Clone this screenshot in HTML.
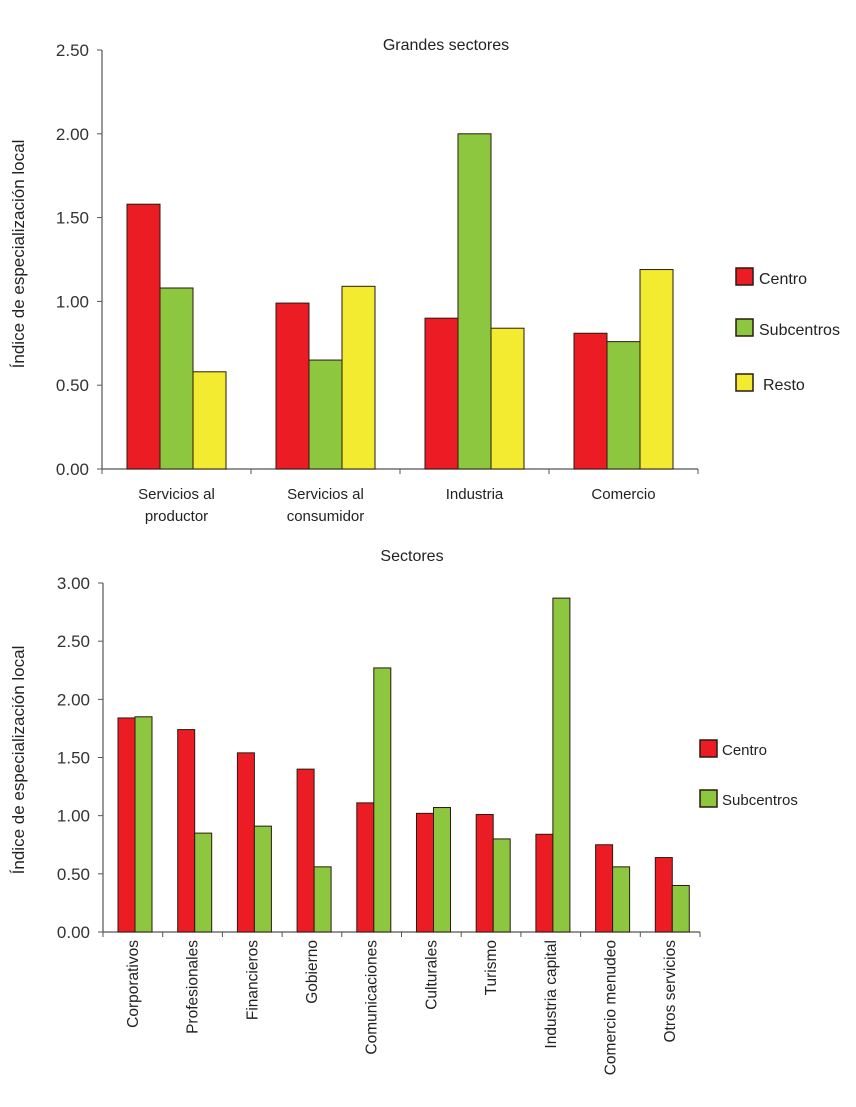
<!DOCTYPE html>
<html><head><meta charset="utf-8">
<style>
body{margin:0;background:#fff;}
svg text{font-family:"Liberation Sans",sans-serif;fill:#222;}
</style></head>
<body>
<svg id="c" width="856" height="1102" xmlns="http://www.w3.org/2000/svg"></svg>
<script>
const topCats=[["Servicios al","productor"],["Servicios al","consumidor"],["Industria"],["Comercio"]];
const topCentro=[1.58,0.99,0.90,0.81];
const topSub=[1.08,0.65,2.00,0.76];
const topResto=[0.58,1.09,0.84,1.19];
const topTicks=["0.00","0.50","1.00","1.50","2.00","2.50"];
const botCats=["Corporativos","Profesionales","Financieros","Gobierno","Comunicaciones","Culturales","Turismo","Industria capital","Comercio menudeo","Otros servicios"];
const botCentro=[1.84,1.74,1.54,1.40,1.11,1.02,1.01,0.84,0.75,0.64];
const botSub=[1.85,0.85,0.91,0.56,2.27,1.07,0.80,2.87,0.56,0.40];
const botTicks=["0.00","0.50","1.00","1.50","2.00","2.50","3.00"];

const svg=document.getElementById('c');
const NS="http://www.w3.org/2000/svg";
function mk(tag,attrs,txt){const e=document.createElementNS(NS,tag);for(const k in attrs)e.setAttribute(k,attrs[k]);if(txt!==undefined)e.textContent=txt;svg.appendChild(e);return e;}
const RED="#ec1c24",GREEN="#8dc63f",YEL="#f2eb30";

function chart(o){
  const y=v=>o.y0-(v/o.max)*(o.y0-o.yTop);
  const n=o.cats.length;const gw=(o.x1-o.x0)/n;
  let e=mk('line',{x1:o.x0,y1:o.yTop,x2:o.x0,y2:o.y0,stroke:'#555','stroke-width':1.2});
  
  
  e=mk('line',{x1:o.x0,y1:o.y0,x2:o.x1,y2:o.y0,stroke:'#555','stroke-width':1.2});
  
  
  o.ticks.forEach(t=>{const yy=y(parseFloat(t));
    mk('line',{x1:o.x0-5,y1:yy,x2:o.x0,y2:yy,stroke:'#555'});
    e=mk('text',{x:o.x0-13,y:yy+6,'text-anchor':'end','font-size':17,style:'fill:#333'},t);
    
    
  });
  for(let i=0;i<=n;i++){const xx=o.x0+i*gw;mk('line',{x1:xx,y1:o.y0,x2:xx,y2:o.y0+5,stroke:'#555'});}
  o.series.forEach((s,si)=>{
    s.vals.forEach((v,i)=>{
      const x=o.x0+i*gw+o.off+si*o.bw;
      const r=mk('rect',{x:x,y:y(v),width:o.bw,height:o.y0-y(v),fill:s.color,stroke:'#2a1a10','stroke-width':1});
      
      
    });
  });
  o.cats.forEach((c,i)=>{
    const cx=o.x0+(i+0.5)*gw;
    if(o.rot){
      e=mk('text',{x:0,y:0,'text-anchor':'end','font-size':15.5,transform:`translate(${cx+5},${o.y0+8}) rotate(-90)`},c);
    }else{
      e=mk('text',{x:cx,y:o.y0+30,'text-anchor':'middle','font-size':15});
      c.forEach((l,li)=>{const t=document.createElementNS(NS,'tspan');t.setAttribute('x',cx);t.setAttribute('dy',li?22:0);t.textContent=l;e.appendChild(t);});
    }
    
    
  });
}
chart({p:'top',cats:topCats,max:2.5,ticks:topTicks,x0:102,x1:698,y0:469,yTop:50,off:25,bw:33,rot:false,
  series:[{name:'Centro',vals:topCentro,color:RED},{name:'Subcentros',vals:topSub,color:GREEN},{name:'Resto',vals:topResto,color:YEL}]});
chart({p:'bottom',cats:botCats,max:3,ticks:botTicks,x0:103,x1:700,y0:932,yTop:583,off:15,bw:17,rot:true,
  series:[{name:'Centro',vals:botCentro,color:RED},{name:'Subcentros',vals:botSub,color:GREEN}]});

let e=mk('text',{x:446,y:50,'text-anchor':'middle','font-size':16},'Grandes sectores');


e=mk('text',{x:412,y:561,'text-anchor':'middle','font-size':16},'Sectores');


e=mk('text',{x:0,y:0,'text-anchor':'middle','font-size':17,transform:'translate(24,254) rotate(-90)'},'Índice de especialización local');


e=mk('text',{x:0,y:0,'text-anchor':'middle','font-size':17,transform:'translate(24,760) rotate(-90)'},'Índice de especialización local');



[[ 'Centro',RED,268],['Subcentros',GREEN,319],['Resto',YEL,374]].forEach(l=>{
  const r=mk('rect',{x:736,y:l[2],width:17,height:17,fill:l[1],stroke:'#2a1a10','stroke-width':1.5});
  
  
  const t=mk('text',{x:l[0]==='Resto'?763:759,y:l[2]+16,'font-size':16},l[0]);
  
  
});
[['Centro',RED,740],['Subcentros',GREEN,790]].forEach(l=>{
  const r=mk('rect',{x:700,y:l[2],width:17,height:17,fill:l[1],stroke:'#2a1a10','stroke-width':1.5});
  
  
  const t=mk('text',{x:722,y:l[2]+15,'font-size':15},l[0]);
  
  
});
</script>
</body></html>
